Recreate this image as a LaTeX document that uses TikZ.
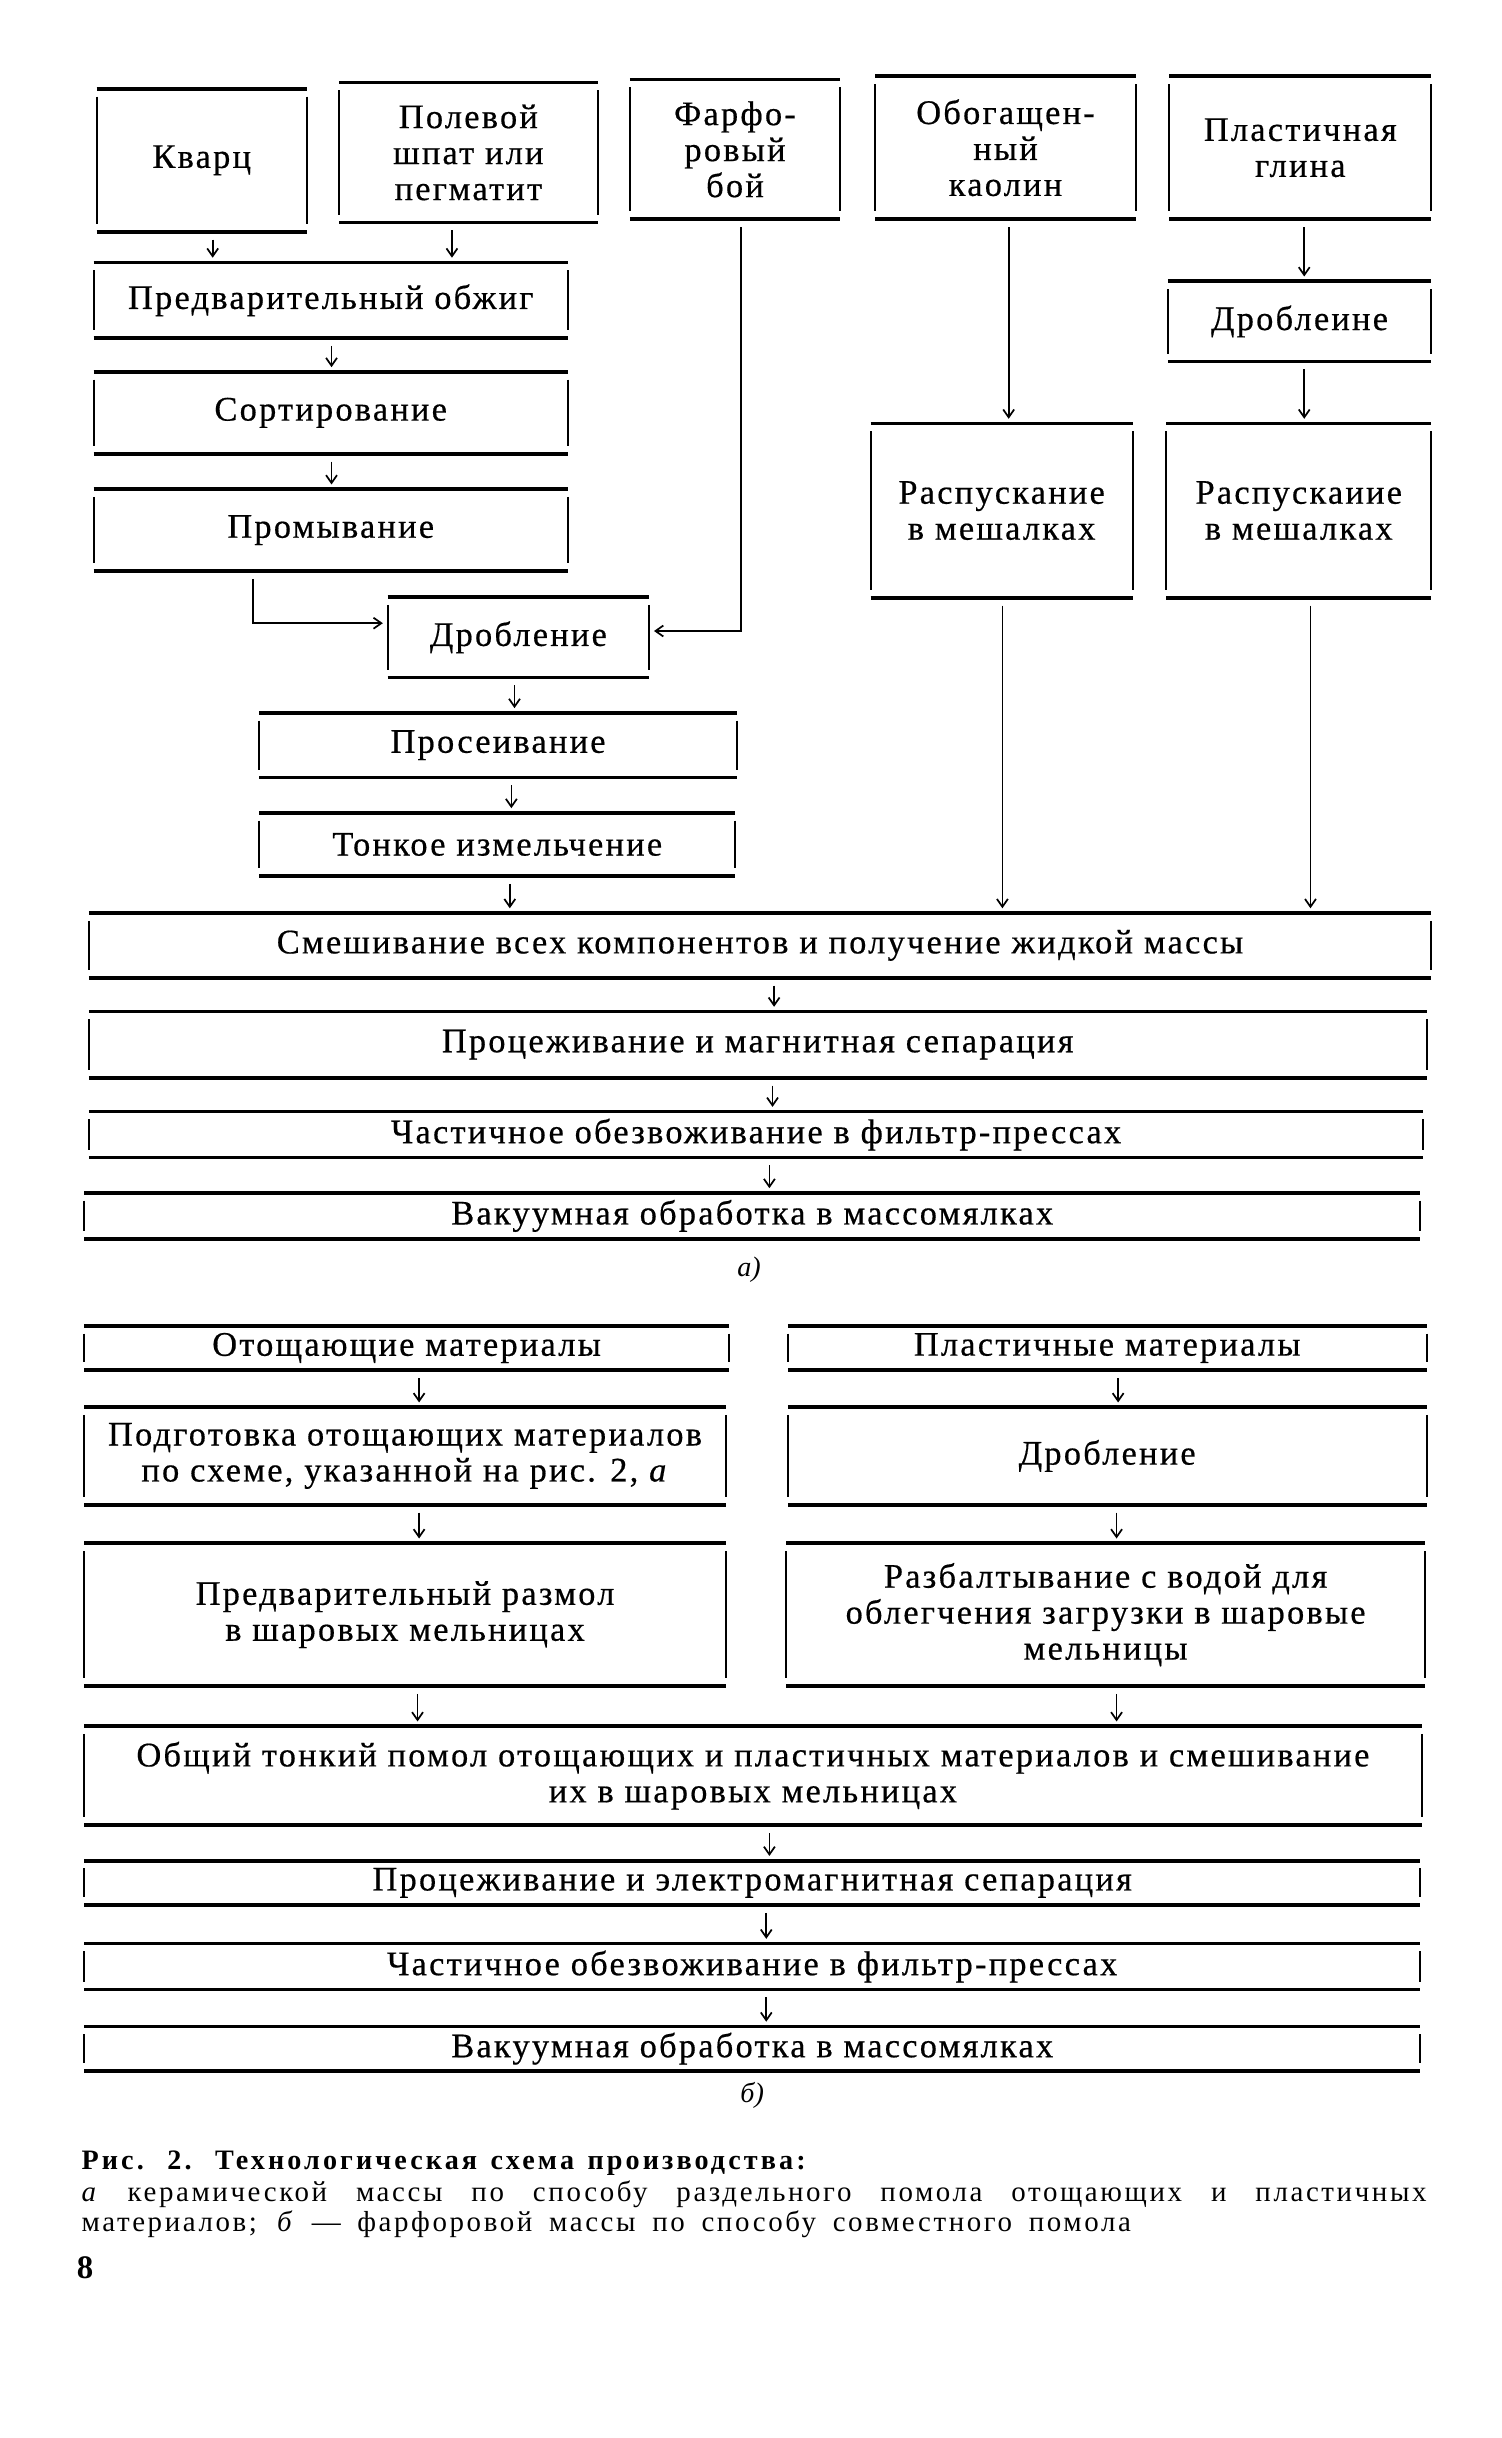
\documentclass[tikz,border=0pt]{standalone}
\usepackage{fontspec}
\setmainfont{Liberation Serif}
\newfontfamily\boxfont{Liberation Serif}[LetterSpace=6.5,FakeBold=0.5]
\newfontfamily\capfont{Liberation Serif}[LetterSpace=9]
\newfontfamily\capheadfont{Liberation Serif}[LetterSpace=11]
\usetikzlibrary{arrows.meta,calc}
\newcommand\mkbox[6]{%
  \node[pbox, minimum width={#4-#2}, minimum height={#5-#3}] (#1) at ({(#2+#4)/2},{(#3+#5)/2}) {#6};
  \draw[hline] (#1.north west) -- (#1.north east);
  \draw[hline] (#1.south west) -- (#1.south east);
  \draw[vline] ([yshift=-5pt]#1.north west) -- ([yshift=5pt]#1.south west);
  \draw[vline] ([yshift=-5pt]#1.north east) -- ([yshift=5pt]#1.south east);
}
\begin{document}
\begin{tikzpicture}[x=1pt,y=-1pt,
  pbox/.style={draw=none, inner sep=0pt, align=center, font=\boxfont\fontsize{22}{23}\selectfont},
  hline/.style={line width=2.4pt},
  vline/.style={line width=1.3pt},
  arr/.style={line width=1.1pt, -{Straight Barb[length=5pt,width=7pt]}, shorten <=5pt, shorten >=3pt},
  lbl/.style={font=\fontsize{18}{18}\selectfont\itshape},
  captxt/.style={anchor=base west, inner sep=0pt}]
\useasboundingbox (0,0) rectangle (960,1559);
\fill[white] (0,0) rectangle (960,1559);
% ---------- part a ----------
\mkbox{kvarc}{62}{57}{196}{148}{Кварц}
\mkbox{polev}{217}{53}{382}{142}{Полевой\\шпат или\\пегматит}
\mkbox{farf}{403}{51}{537}{140}{Фарфо-\\ровый\\бой}
\mkbox{kaol}{560}{49}{726}{140}{Обогащен-\\ный\\каолин}
\mkbox{glina}{748}{49}{915}{140}{Пластичная\\глина}
\mkbox{obzh}{60}{168}{363}{216}{Предварительный обжиг}
\mkbox{sort}{60}{238}{363}{290}{Сортирование}
\mkbox{prom}{60}{313}{363}{365}{Промывание}
\mkbox{drob1}{248}{382}{415}{433}{Дробление}
\mkbox{pros}{166}{456}{471}{497}{Просеивание}
\mkbox{tonk}{166}{520}{470}{560}{Тонкое измельчение}
\mkbox{drob2}{747}{180}{915}{231}{Дроблеине}
\mkbox{rasp1}{557}{271}{724}{382}{Распускание\\в мешалках}
\mkbox{rasp2}{746}{271}{915}{382}{Распускаиие\\в мешалках}
\mkbox{mix}{57}{584}{915}{625}{Смешивание всех компонентов и получение жидкой массы}
\mkbox{proc1}{57}{647}{912}{689}{Процеживание и магнитная сепарация}
\mkbox{chast1}{57}{711}{910}{740}{Частичное обезвоживание в фильтр-прессах}
\mkbox{vak1}{54}{763}{908}{792}{Вакуумная обработка в массомялках}
\node[lbl] (la) at (479,812) {а)};
\draw[arr] (kvarc.south -| 136,0) -- (obzh.north -| 136,0);
\draw[arr] (polev.south -| 289,0) -- (obzh.north -| 289,0);
\draw[arr] (obzh.south -| 212,0) -- (sort.north -| 212,0);
\draw[arr] (sort.south -| 212,0) -- (prom.north -| 212,0);
\draw[arr] (prom.south -| 162,0) |- ([yshift=9pt]drob1.west);
\draw[arr] (farf.south -| 474,0) |- ([yshift=4pt]drob1.east);
\draw[arr] (drob1.south -| 329,0) -- (pros.north -| 329,0);
\draw[arr] (pros.south -| 327,0) -- (tonk.north -| 327,0);
\draw[arr] (tonk.south -| 326,0) -- (mix.north -| 326,0);
\draw[arr] (kaol.south -| 645,0) -- (rasp1.north -| 645,0);
\draw[arr] (glina.south -| 834,0) -- (drob2.north -| 834,0);
\draw[arr] (drob2.south -| 834,0) -- (rasp2.north -| 834,0);
\draw[arr] (rasp1.south -| 641,0) -- (mix.north -| 641,0);
\draw[arr] (rasp2.south -| 838,0) -- (mix.north -| 838,0);
\draw[arr] (mix.south -| 495,0) -- (proc1.north -| 495,0);
\draw[arr] (proc1.south -| 494,0) -- (chast1.north -| 494,0);
\draw[arr] (chast1.south -| 492,0) -- (vak1.north -| 492,0);
% ---------- part b ----------
\mkbox{otosh}{54}{848}{466}{876}{Отощающие материалы}
\mkbox{plast}{504}{848}{912}{876}{Пластичные материалы}
\mkbox{podg}{54}{900}{464}{962}{Подготовка отощающих материалов\\по схеме, указанной на рис. 2, \textit{а}}
\mkbox{drob3}{504}{900}{912}{962}{Дробление}
\mkbox{razm}{54}{987}{464}{1078}{Предварительный размол\\в шаровых мельницах}
\mkbox{razb}{503}{987}{911}{1078}{Разбалтывание с водой для\\облегчения загрузки в шаровые\\мельницы}
\mkbox{obsh}{54}{1104}{909}{1167}{Общий тонкий помол отощающих и пластичных материалов и смешивание\\их в шаровых мельницах}
\mkbox{proc2}{54}{1190}{908}{1218}{Процеживание и электромагнитная сепарация}
\mkbox{chast2}{54}{1243}{908}{1272}{Частичное обезвоживание в фильтр-прессах}
\mkbox{vak2}{54}{1296}{908}{1324}{Вакуумная обработка в массомялках}
\node[lbl] (lb) at (481,1340) {б)};
\draw[arr] (otosh.south -| 268,0) -- (podg.north -| 268,0);
\draw[arr] (plast.south -| 715,0) -- (drob3.north -| 715,0);
\draw[arr] (podg.south -| 268,0) -- (razm.north -| 268,0);
\draw[arr] (drob3.south -| 714,0) -- (razb.north -| 714,0);
\draw[arr] (razm.south -| 267,0) -- (obsh.north -| 267,0);
\draw[arr] (razb.south -| 714,0) -- (obsh.north -| 714,0);
\draw[arr] (obsh.south -| 492,0) -- (proc2.north -| 492,0);
\draw[arr] (proc2.south -| 490,0) -- (chast2.north -| 490,0);
\draw[arr] (chast2.south -| 490,0) -- (vak2.north -| 490,0);
% ---------- caption ----------
\node[captxt, font=\capheadfont\fontsize{18}{18}\selectfont\bfseries] (cap1) at (52,1387)
  {\makebox[463pt][s]{Рис. 2. Технологическая схема производства:}};
\node[captxt, font=\capfont\fontsize{18.5}{18.5}\selectfont] (cap2) at (52,1408)
  {\makebox[860pt][s]{\textit{а}\quad керамической массы по способу раздельного помола отощающих и пластичных}};
\node[captxt, font=\capfont\fontsize{18.5}{18.5}\selectfont] (cap3) at (52,1427)
  {\makebox[671pt][s]{материалов; \textit{б} — фарфоровой массы по способу совместного помола}};
\node[captxt, font=\fontsize{21}{21}\selectfont\bfseries] (pg) at (49,1457) {8};
\end{tikzpicture}
\end{document}
